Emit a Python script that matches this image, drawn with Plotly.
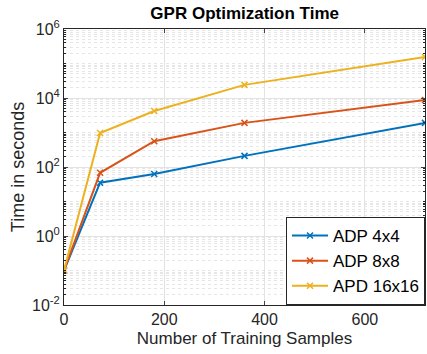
import plotly.graph_objects as go
import numpy as np

samples = [0, 72, 180, 360, 720]
adp4 = [0.1, 35, 63, 210, 1900]
adp8 = [0.1, 68, 560, 1900, 8700]
apd16 = [0.1, 970, 4200, 24000, 155000]
names = ["ADP 4x4", "ADP 8x8", "APD 16x16"]
colors = ["#0072BD", "#D95319", "#EDB120"]

ytickvals = [1e-2, 1e0, 1e2, 1e4, 1e6]
yticktext = ["10<sup>-2</sup>", "10<sup>0</sup>", "10<sup>2</sup>", "10<sup>4</sup>", "10<sup>6</sup>"]
xtickvals = [0, 200, 400, 600]

minor_y = [m * 10.0 ** e for e in range(-2, 6) for m in range(1, 10) if not (m == 1 and e % 2 == 0)]

fig = go.Figure()
for n, ys, c in zip(names, [adp4, adp8, apd16], colors):
    fig.add_trace(go.Scatter(x=samples, y=ys, name=n, mode="lines+markers",
                             line=dict(color=c, width=2),
                             marker=dict(symbol="x-thin", size=6, line=dict(color=c, width=1.5))))

font = "Liberation Sans, Arial, Helvetica, sans-serif"
fig.update_layout(
    width=427, height=354,
    margin=dict(l=64, r=2, t=29, b=49),
    paper_bgcolor="white", plot_bgcolor="white",
    font=dict(family=font, size=15, color="#262626"),
    title=dict(text="<b>GPR Optimization Time</b>", x=0.573, xanchor="center", y=0.962, yanchor="middle",
               font=dict(size=17, color="black")),
    legend=dict(x=1.0, y=0.0, xanchor="right", yanchor="bottom",
                bordercolor="#262626", borderwidth=1, bgcolor="white",
                font=dict(size=17, color="black"), tracegroupgap=0, itemwidth=36),
    showlegend=True,
)
fig.update_xaxes(range=[0, 720], tickvals=xtickvals, ticks="inside", ticklen=4, automargin=False,
                 showgrid=True, gridcolor="#e3e3e3", gridwidth=1,
                 showline=True, linecolor="#262626", linewidth=1, mirror="ticks", zeroline=False,
                 title=dict(text="Number of Training Samples", font=dict(size=17), standoff=4),
                 tickfont=dict(size=16))
fig.update_yaxes(type="log", range=[-2, 6], tickvals=ytickvals, ticktext=yticktext, automargin=False,
                 ticks="inside", ticklen=4,
                 showgrid=True, gridcolor="#e3e3e3", gridwidth=1,
                 showline=True, linecolor="#262626", linewidth=1, mirror="ticks", zeroline=False,
                 minor=dict(tickvals=minor_y, showgrid=True, gridcolor="#e6e6e6", griddash="dot",
                            gridwidth=1, ticks="inside", ticklen=2, tickcolor="#262626"),
                 title=dict(text="Time in seconds", font=dict(size=18), standoff=2),
                 tickfont=dict(size=16))
fig.write_html("out.html", config={"displayModeBar": False},
               post_script="document.body.style.margin='0';document.body.style.overflow='hidden';")
